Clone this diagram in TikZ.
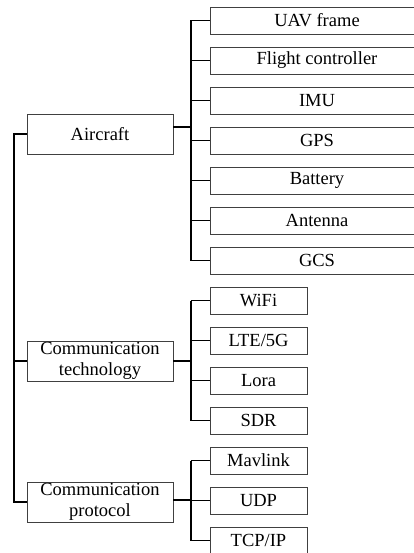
\documentclass[tikz,border=0pt]{standalone}
\usepackage{fontspec}
\setmainfont{Liberation Serif}
\begin{document}
\begin{tikzpicture}[x=1pt, y=-1pt,
          every node/.style = {draw=black!75, line width=0.9pt, align=center, inner sep=0pt,
                               font=\fontsize{18.5}{21}\selectfont},
          group/.style={minimum width=146pt, minimum height=40pt},
          leaf/.style={minimum height=27pt},
          wide/.style={leaf, minimum width=214pt},
          narrow/.style={leaf, minimum width=97pt},
          conn/.style={draw=black, line width=1.3pt}]
          \useasboundingbox (0,0) rectangle (414,553);
          \clip (0,0) rectangle (414,553);
          % Hovedgrupper
          \node[group] (aircraft) at (100,134) {Aircraft};
          \node[group] (comtech) at (100,361) {Communication\\technology};
          \node[group] (comproto) at (100,502) {Communication\\protocol};
          \coordinate (root) at (14,0);
          \coordinate (trunk) at (191,0);
          % Blade: \foreach navn/tekst [count=nummer]
          \foreach \n/\t [count=\i from 0] in {uav/UAV frame, fc/Flight controller, imu/IMU,
                    gps/GPS, bat/Battery, ant/Antenna, gcs/GCS}
            \node[wide] (\n) at (317, 20.5+40*\i) {\t};
          \foreach \n/\t [count=\i from 0] in {wifi/WiFi, lte/{LTE/5G}, lora/Lora, sdr/SDR}
            \node[narrow] (\n) at (258.5, 300.5+40*\i) {\t};
          \foreach \n/\t [count=\i from 0] in {mav/Mavlink, udp/UDP, tcp/{TCP/IP}}
            \node[narrow] (\n) at (258.5, 460.5+40*\i) {\t};
          % Forbindelser
          \draw[conn] (aircraft.west) -| (comproto.west -| root) -- (comproto.west);
          \draw[conn] (comtech.west) -- (comtech.west -| root);
          \draw[conn] ([yshift=7pt]aircraft.east) -- ([yshift=7pt]aircraft.east -| trunk);
          \draw[conn] (comtech.east) -- (comtech.east -| trunk);
          \draw[conn] ([yshift=2pt]comproto.east) -- ([yshift=2pt]comproto.east -| trunk);
          \draw[conn] (uav.west -| trunk) -- (gcs.west -| trunk);
          \draw[conn] (wifi.west -| trunk) -- (sdr.west -| trunk);
          \draw[conn] (mav.west -| trunk) -- (tcp.west -| trunk);
          \foreach \n in {uav,fc,imu,gps,bat,ant,gcs,wifi,lte,lora,sdr,mav,udp,tcp}
            \draw[conn] (\n.west) -- (\n.west -| trunk);
        \end{tikzpicture}
\end{document}
